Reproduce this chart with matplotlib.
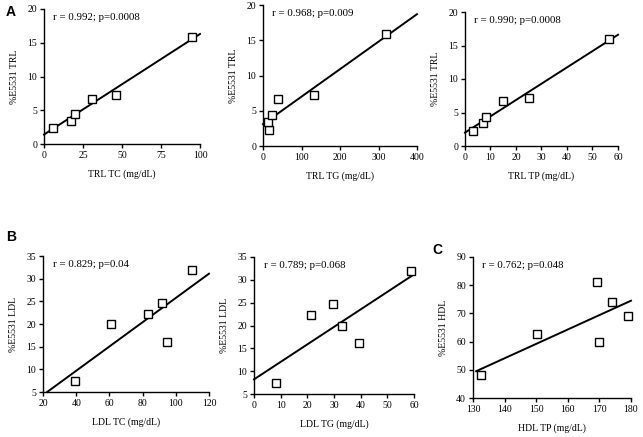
import numpy as np
import matplotlib
matplotlib.use("Agg")
import matplotlib.pyplot as plt

plt.rcParams['font.family'] = ['Liberation Serif', 'DejaVu Serif']

W, H = 643, 437

# panel A: TRL
trl_tc = [6, 17, 20, 31, 46, 95]
trl_tg = [15, 13, 24, 40, 132, 320]
trl_tp = [3, 7, 8.3, 15, 25, 56.5]
trl_pct = [2.3, 3.4, 4.4, 6.7, 7.2, 15.9]

# panel B: LDL
ldl_tc = [39, 61, 83, 91.5, 94.5, 110]
ldl_tc_pct = [7.4, 19.9, 22.2, 24.6, 16.1, 32.0]
ldl_tg = [8.3, 21.5, 29.7, 33, 39.5, 59]
ldl_tg_pct = [7.3, 22.2, 24.6, 19.9, 16.1, 32.0]

# panel C: HDL
hdl_tp = [132.5, 150.2, 169.2, 169.8, 174, 179]
hdl_pct = [48, 62.7, 81, 59.7, 74, 69]

# regression lines as drawn (x0, x1), (y0, y1)
fit_lines = [
    ([0, 100], [1.4, 16.3]),
    ([0, 400], [3.1, 18.7]),
    ([0, 60], [2.0, 16.6]),
    ([22.5, 120], [5.0, 31.1]),
    ([0, 59.5], [8.2, 31.0]),
    ([131, 180], [49.5, 74.5]),
]

stats = ["r = 0.992; p=0.0008", "r = 0.968; p=0.009", "r = 0.990; p=0.0008",
         "r = 0.829; p=0.04", "r = 0.789; p=0.068", "r = 0.762; p=0.048"]

panels = [
    (trl_tc, trl_pct, "TRL TC (mg/dL)", "%E5531 TRL", (0, 100), np.arange(0, 101, 25), (0, 20), np.arange(0, 21, 5)),
    (trl_tg, trl_pct, "TRL TG (mg/dL)", "%E5531 TRL", (0, 400), np.arange(0, 401, 100), (0, 20), np.arange(0, 21, 5)),
    (trl_tp, trl_pct, "TRL TP (mg/dL)", "%E5531 TRL", (0, 60), np.arange(0, 61, 10), (0, 20), np.arange(0, 21, 5)),
    (ldl_tc, ldl_tc_pct, "LDL TC (mg/dL)", "%E5531 LDL", (20, 120), np.arange(20, 121, 20), (5, 35), np.arange(5, 36, 5)),
    (ldl_tg, ldl_tg_pct, "LDL TG (mg/dL)", "%E5531 LDL", (0, 60), np.arange(0, 61, 10), (5, 35), np.arange(5, 36, 5)),
    (hdl_tp, hdl_pct, "HDL TP (mg/dL)", "%E5531 HDL", (130, 180), np.arange(130, 181, 10), (40, 90), np.arange(40, 91, 10)),
]

# axes boxes in pixels: left, right, top, bottom
boxes = [
    (44, 200, 9, 144),
    (263, 417, 5, 146),
    (465, 618, 12, 146),
    (43, 209, 256, 392),
    (254, 414, 257, 394),
    (473, 631, 257, 398),
]

fig = plt.figure(figsize=(W / 100, H / 100), dpi=100)

for (x, y, xl, yl, xlim, xt, ylim, yt), (l, r, t, b), (lx, ly), s in zip(panels, boxes, fit_lines, stats):
    ax = fig.add_axes([l / W, 1 - b / H, (r - l) / W, (b - t) / H])
    ax.plot(x, y, 's', mfc='white', mec='black', mew=1.0, ms=5.5, clip_on=False, zorder=3)
    ax.plot(lx, ly, '-', color='black', lw=1.4, clip_on=False)
    ax.set_xlim(xlim)
    ax.set_ylim(ylim)
    ax.set_xticks(xt)
    ax.set_yticks(yt)
    for side in ['top', 'right']:
        ax.spines[side].set_visible(False)
    for side in ['left', 'bottom']:
        ax.spines[side].set_linewidth(1.0)
    ax.tick_params(labelsize=7, length=3, width=1, direction='out', pad=2)
    ax.set_xlabel(xl, fontsize=7, labelpad=7)
    ax.set_ylabel(yl, fontsize=7, labelpad=6)
    ax.text(0.06, 0.94, s, transform=ax.transAxes, fontsize=7.8, va='center', ha='left')

for lab, px, py in [("A", 11, 12), ("B", 11, 237), ("C", 437, 250)]:
    fig.text(px / W, 1 - py / H, lab, fontsize=10, fontweight='bold',
             family=['Liberation Sans', 'DejaVu Sans'], ha='center', va='center')

fig.savefig("out.png", dpi=100)
